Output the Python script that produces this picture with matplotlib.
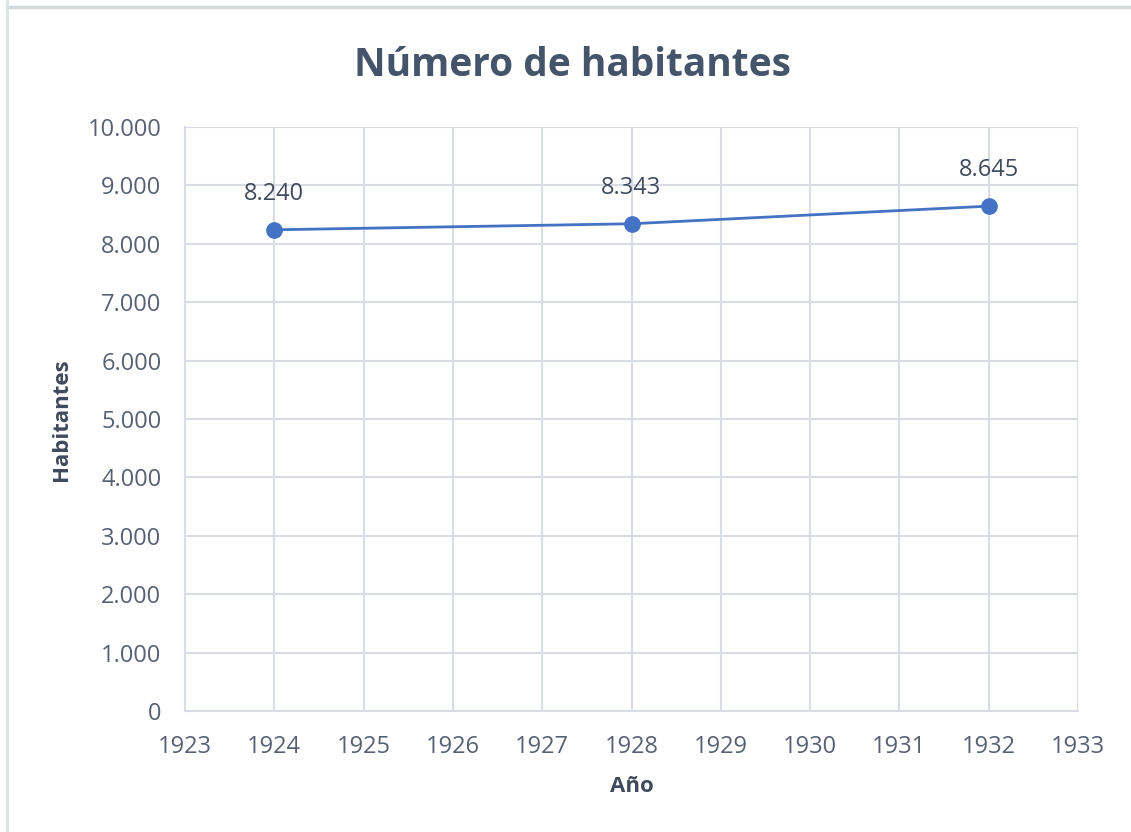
import matplotlib
matplotlib.use('Agg')
import matplotlib.pyplot as plt
from matplotlib.ticker import FuncFormatter, MultipleLocator
from matplotlib.lines import Line2D

years = [1924, 1928, 1932]
habitantes = [8240, 8343, 8645]
labels = ['8.240', '8.343', '8.645']

plt.rcParams['font.family'] = ['Open Sans', 'DejaVu Sans']

fig = plt.figure(figsize=(11.31, 8.32), dpi=100)
ax = fig.add_axes([185 / 1131, 1 - 711 / 832, (1078 - 185) / 1131, (711 - 127) / 832])

grid_col = '#d9dce2'
text_col = '#586174'

ax.plot(years, habitantes, color='#4472c4', lw=2, marker='o', markersize=11, zorder=3)
for x, y, t in zip(years, habitantes, labels):
    ax.annotate(t, (x, y), xytext=(0, 26), textcoords='offset points',
                ha='center', va='center', fontsize=17, color='#404a5c')

ax.set_xlim(1923, 1933)
ax.set_ylim(0, 10000)
ax.xaxis.set_major_locator(MultipleLocator(1))
ax.yaxis.set_major_locator(MultipleLocator(1000))
ax.yaxis.set_major_formatter(FuncFormatter(lambda v, p: f'{int(v):,}'.replace(',', '.')))
ax.grid(True, color=grid_col, lw=1.5)
ax.set_axisbelow(True)
for s in ['top', 'right']:
    ax.spines[s].set_visible(False)
for s in ['left', 'bottom']:
    ax.spines[s].set_color(grid_col)
    ax.spines[s].set_linewidth(1.5)
ax.tick_params(length=0, labelsize=17, colors=text_col)
ax.tick_params(axis='y', pad=17)
ax.tick_params(axis='x', pad=17)

fig.text(573 / 1131, 1 - 65 / 832, 'Número de habitantes', fontsize=28, fontweight='bold',
         color='#44546a', ha='center', va='center')
ax.set_xlabel('Año', fontsize=16, fontweight='bold', color='#404a5c')
ax.set_ylabel('Habitantes', fontsize=16, fontweight='bold', color='#404a5c')
ax.xaxis.set_label_coords((632 - 185) / 893, (711 - 787) / 584)
ax.yaxis.set_label_coords((62 - 185) / 893, (711 - 420) / 584)
ax.xaxis.label.set_va('center')
ax.yaxis.label.set_va('center')

# outer frame
fig.add_artist(Line2D([7 / 1131, 1], [1 - 7 / 832, 1 - 7 / 832], color='#d5d8dd', lw=2.5, transform=fig.transFigure))
fig.add_artist(Line2D([7 / 1131, 7 / 1131], [0, 1], color='#dfe2e6', lw=2, transform=fig.transFigure))

fig.savefig('out.png', dpi=100)
